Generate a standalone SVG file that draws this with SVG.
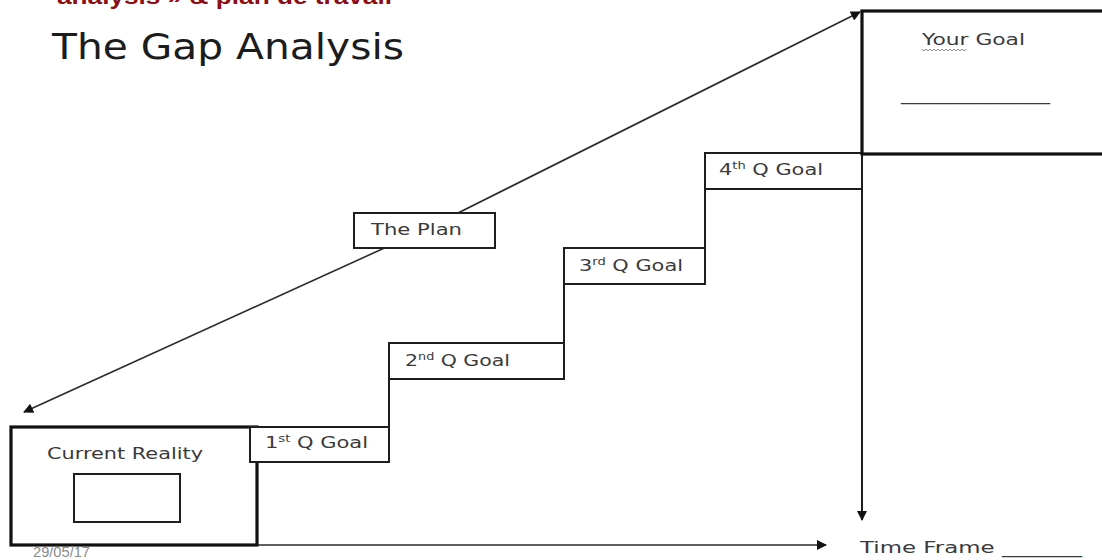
<svg xmlns="http://www.w3.org/2000/svg" width="1102" height="560" viewBox="0 0 1102 560">
  <style>
    .bg { fill: #ffffff; }
    .box { fill: #ffffff; stroke: #1e1e1e; stroke-width: 2; }
    .heavy { fill: #ffffff; stroke: #111111; stroke-width: 3.2; }
    .wire { fill: none; stroke: #1e1e1e; stroke-width: 2; }
    .thin { fill: none; stroke: #2a2a2a; stroke-width: 1.6; }
    .lbl { font-family: "DejaVu Sans", Verdana, sans-serif; font-size: 16px; fill: #3a3a3a; }
    .sup { font-size: 10px; }
    .title { font-family: "DejaVu Sans", Verdana, sans-serif; font-size: 35px; fill: #1c1c1c; }
    .head { font-family: "Liberation Sans", Arial, sans-serif; font-size: 22px; font-weight: bold; fill: #8b0f14; }
    .date { font-family: "Liberation Sans", Arial, sans-serif; font-size: 14px; fill: #8a8a8a; }
  </style>
  <defs>
    <marker id="arrow" viewBox="0 0 10 10" refX="9" refY="5" markerWidth="12" markerHeight="10" markerUnits="userSpaceOnUse" orient="auto">
      <path d="M0,0 L10,5 L0,10 Z" fill="#111111"/>
    </marker>
  </defs>

  <rect class="bg" x="0" y="0" width="1102" height="560"/>

  <!-- slide header, clipped at the top edge -->
  <text class="head" x="57" y="4" textLength="335" lengthAdjust="spacingAndGlyphs">analysis » &amp; plan de travail</text>
  <text class="title" x="52" y="59" textLength="352" lengthAdjust="spacingAndGlyphs">The Gap Analysis</text>

  <!-- connectors -->
  <g id="connectors">
    <line class="thin" x1="424" y1="230" x2="24" y2="412" marker-end="url(#arrow)"/>
    <line class="thin" x1="424" y1="230" x2="860" y2="12" marker-end="url(#arrow)"/>
    <line class="wire" x1="862" y1="154" x2="862" y2="520" marker-end="url(#arrow)"/>
    <line class="thin" x1="257" y1="545" x2="826" y2="545" marker-end="url(#arrow)"/>
    <!-- risers between the quarterly steps -->
    <line class="wire" x1="389" y1="379" x2="389" y2="427"/>
    <line class="wire" x1="564" y1="284" x2="564" y2="343"/>
    <line class="wire" x1="705" y1="189" x2="705" y2="248"/>
  </g>

  <g id="current-reality">
    <rect class="heavy" x="11" y="427" width="246" height="118"/>
    <rect class="box" x="74" y="474" width="106" height="48" stroke-width="1.6"/>
    <text class="lbl" x="47" y="459" textLength="156" lengthAdjust="spacingAndGlyphs">Current Reality</text>
  </g>

  <g id="q1-goal">
    <rect class="box" x="250" y="427" width="139" height="35"/>
    <text class="lbl" x="265" y="448" textLength="103" lengthAdjust="spacingAndGlyphs">1<tspan class="sup" dy="-6">st</tspan><tspan dy="6"> Q Goal</tspan></text>
  </g>

  <g id="q2-goal">
    <rect class="box" x="389" y="343" width="175" height="36"/>
    <text class="lbl" x="405" y="366" textLength="105" lengthAdjust="spacingAndGlyphs">2<tspan class="sup" dy="-6">nd</tspan><tspan dy="6"> Q Goal</tspan></text>
  </g>

  <g id="q3-goal">
    <rect class="box" x="564" y="248" width="141" height="36"/>
    <text class="lbl" x="579" y="271" textLength="104" lengthAdjust="spacingAndGlyphs">3<tspan class="sup" dy="-6">rd</tspan><tspan dy="6"> Q Goal</tspan></text>
  </g>

  <g id="q4-goal">
    <rect class="box" x="705" y="153" width="157" height="36"/>
    <text class="lbl" x="719" y="175" textLength="104" lengthAdjust="spacingAndGlyphs">4<tspan class="sup" dy="-6">th</tspan><tspan dy="6"> Q Goal</tspan></text>
  </g>

  <g id="the-plan">
    <rect class="box" x="354" y="213" width="141" height="35"/>
    <text class="lbl" x="371" y="235" textLength="91" lengthAdjust="spacingAndGlyphs">The Plan</text>
  </g>

  <g id="your-goal">
    <rect class="heavy" x="862" y="11" width="250" height="143"/>
    <text class="lbl" x="922" y="45" textLength="103" lengthAdjust="spacingAndGlyphs">Your Goal</text>
    <path d="M922,49 l2,2 l2,-2 l2,2 l2,-2 l2,2 l2,-2 l2,2 l2,-2 l2,2 l2,-2 l2,2 l2,-2 l2,2 l2,-2 l2,2 l2,-2 l2,2 l2,-2 l2,2 l2,-2 l2,2 l2,-2" fill="none" stroke="#8a8a8a" stroke-width="1"/>
    <text class="lbl" x="901" y="100" textLength="149" lengthAdjust="spacingAndGlyphs">____________</text>
  </g>

  <g id="time-frame">
    <text class="lbl" x="860" y="553" textLength="222" lengthAdjust="spacingAndGlyphs">Time Frame _______</text>
  </g>

  <text class="date" x="33" y="557" textLength="57" lengthAdjust="spacingAndGlyphs">29/05/17</text>
</svg>
